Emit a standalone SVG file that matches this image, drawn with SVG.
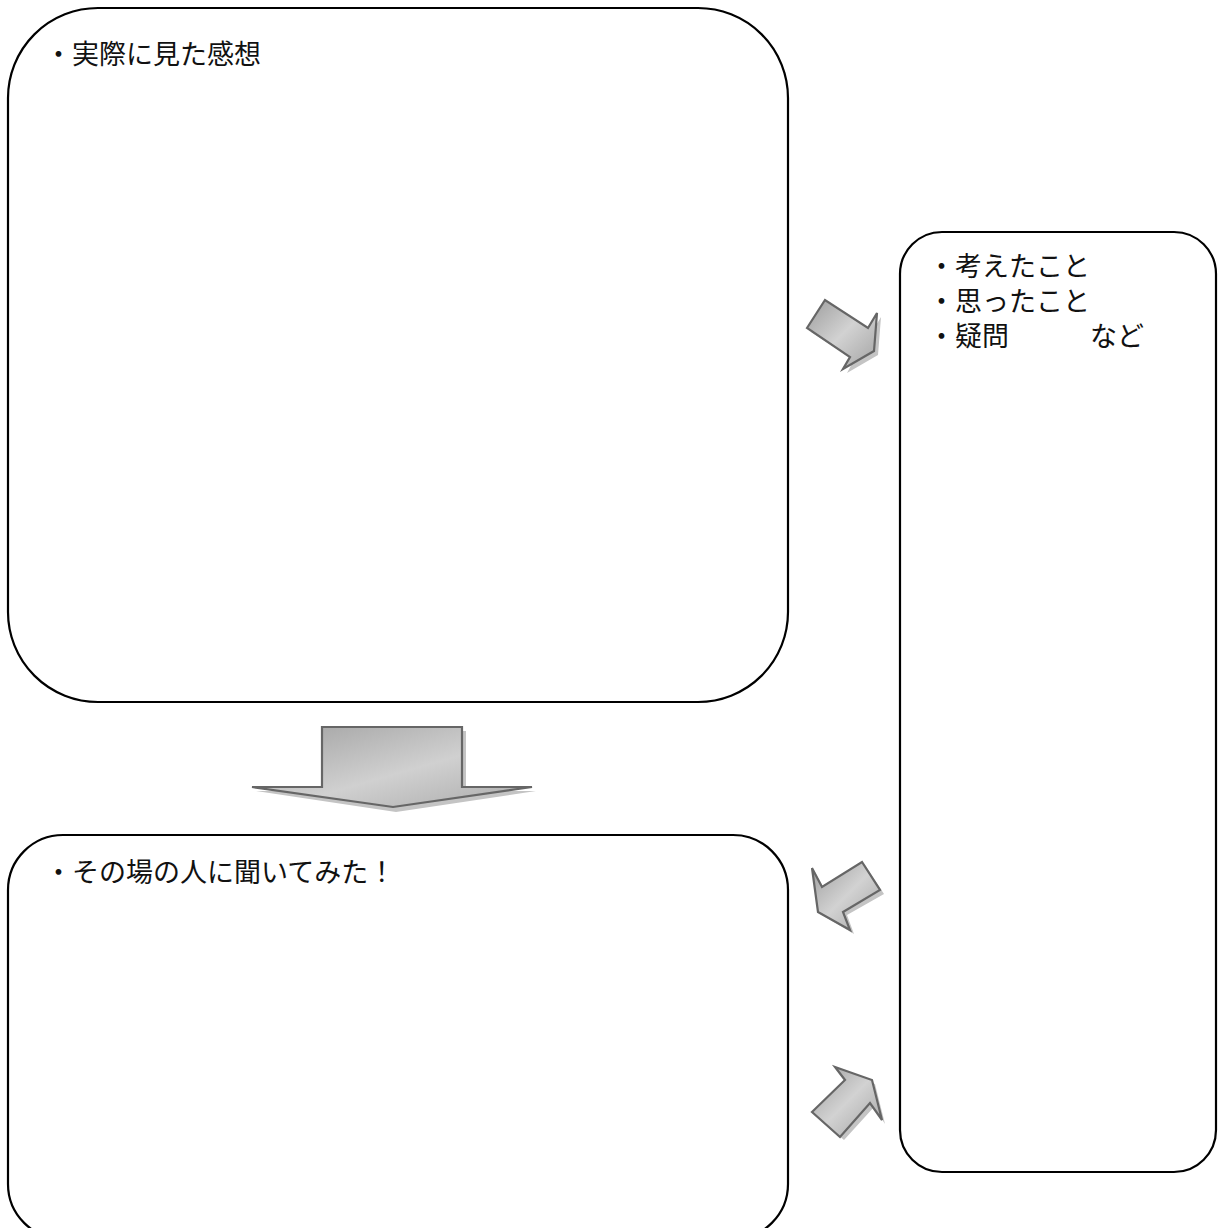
<svg xmlns="http://www.w3.org/2000/svg" width="1219" height="1228" viewBox="0 0 1219 1228">
<defs>
<style>
.box{fill:#fff;stroke:#000;stroke-width:2.2}
.t{font-family:"Noto Sans CJK JP","Noto Sans CJK SC",sans-serif;font-size:27px;fill:#111;white-space:pre}
.arr{fill:url(#g);stroke:#666;stroke-width:2.2;stroke-linejoin:miter}
.sh{fill:#c4c4c4;stroke:none}
</style>
<linearGradient id="g" x1="0" y1="0" x2="1" y2="1">
<stop offset="0" stop-color="#9c9c9c"/>
<stop offset="0.5" stop-color="#d2d2d2"/>
<stop offset="1" stop-color="#a2a2a2"/>
</linearGradient>
<linearGradient id="gd" x1="0" y1="0" x2="1" y2="1">
<stop offset="0" stop-color="#a0a0a0"/>
<stop offset="0.55" stop-color="#d0d0d0"/>
<stop offset="1" stop-color="#aaaaaa"/>
</linearGradient>
</defs>
<g id="node-observation">
<rect class="box" x="8" y="8" width="780" height="694" rx="90" ry="90"/>
<text class="t" x="45" y="64">・実際に見た感想</text>
</g>
<g id="node-thoughts">
<rect class="box" x="900" y="232" width="316" height="940" rx="42" ry="42"/>
<text class="t" x="928" y="276">・考えたこと</text>
<text class="t" x="928" y="311">・思ったこと</text>
<text class="t" x="928" y="346">・疑問　　　など</text>
</g>
<g id="node-interview">
<rect class="box" x="8" y="835" width="780" height="404" rx="55" ry="55"/>
<text class="t" x="45" y="882">・その場の人に聞いてみた！</text>
</g>
<g id="connectors">
<g id="arrow-down">
<polygon class="sh" points="326,731 466,731 466,791 536,791 396,812 256,791 326,791"/>
<polygon points="322,727 462,727 462,787 532,787 393,807 252,787 322,787" style="fill:url(#gd);stroke:#666;stroke-width:2.2"/>
</g>
<g id="arrow-to-thoughts">
<polygon class="sh" points="811,332 829,304 872,332 881,317 878,355 847,373 854,360"/>
<polygon class="arr" points="807,328 825,300 868,328 877,313 874,351 843,369 850,357"/>
</g>
<g id="arrow-to-interview">
<polygon class="sh" points="815,872 825,890 865,865 884,894 847,915 854,934 822,915"/>
<polygon class="arr" points="812,868 822,887 862,862 880,890 843,912 850,930 818,912"/>
</g>
<g id="arrow-back-to-thoughts">
<polygon class="sh" points="815,1115 849,1084 839,1070 875,1084 885,1124 874,1107 844,1140"/>
<polygon class="arr" points="812,1112 845,1080 835,1067 872,1080 882,1120 870,1103 840,1137"/>
</g>
</g>
</svg>
